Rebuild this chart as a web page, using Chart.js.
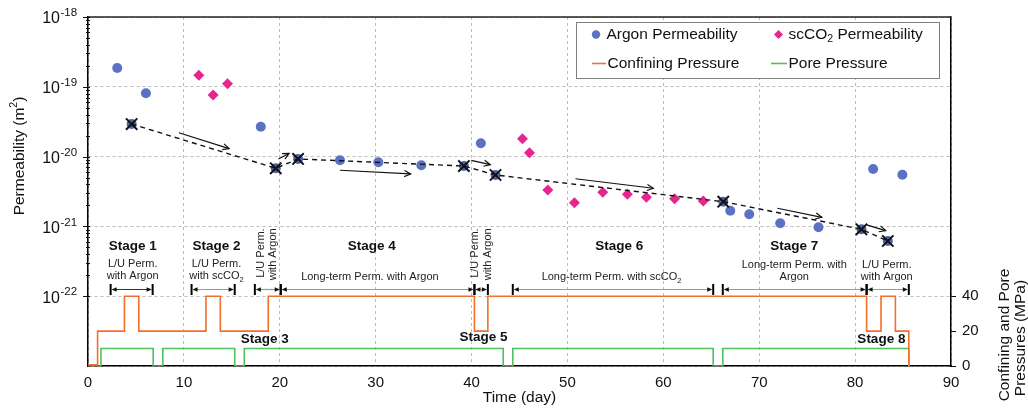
<!DOCTYPE html>
<html><head><meta charset="utf-8">
<script src="https://cdn.jsdelivr.net/npm/chart.js@4.4.1/dist/chart.umd.min.js"></script>
<style>html,body{margin:0;padding:0;background:#fff;overflow:hidden}</style>
</head><body>
<canvas id="c" width="1028" height="418" style="display:block;width:1028px;height:418px"></canvas>
<script>
// ---------- DATA ----------
const argonDays = [3.05, 6.04, 18.02, 26.28, 30.28, 34.76, 40.97, 66.98, 68.96, 72.19, 76.18, 81.88, 84.93];
const argonPerm = [1.86e-19, 8.07e-20, 2.68e-20, 8.85e-21, 8.28e-21, 7.5e-21, 1.55e-20, 1.68e-21, 1.49e-21, 1.11e-21, 9.7e-22, 6.64e-21, 5.51e-21];
const refDays = [4.55, 19.58, 21.91, 39.2, 42.5, 66.25, 80.66, 83.41];
const refPerm = [2.93e-20, 6.8e-21, 9.25e-21, 7.33e-21, 5.45e-21, 2.26e-21, 9.09e-22, 6.18e-22];
const co2Days = [11.56, 13.05, 14.55, 45.31, 46.04, 47.95, 50.73, 53.68, 56.25, 58.23, 61.18, 64.17];
const co2Perm = [1.46e-19, 7.63e-20, 1.11e-19, 1.80e-20, 1.14e-20, 3.32e-21, 2.19e-21, 3.08e-21, 2.88e-21, 2.61e-21, 2.49e-21, 2.31e-21];
const confDays = [0, 1.0, 3.8, 5.3, 12.3, 13.8, 18.8, 40.3, 41.7, 81.2, 82.7, 84.2, 85.6];
const confMPa  = [0.7, 20, 40, 20, 40, 20, 40, 20, 40, 20, 40, 20, 0];
const poreDays = [0, 1.35, 6.8, 7.8, 15.3, 16.3, 43.3, 44.3, 65.2, 66.2, 85.6];
const poreMPa  = [0, 10, 0, 10, 0, 10, 0, 10, 0, 10, 0];
const arrowFromDay  = [9.48, 19.86, 26.28, 39.97, 50.83, 71.9, 81.2];
const arrowFromPerm = [2.2e-20, 9.25e-21, 6.37e-21, 8.85e-21, 4.82e-21, 1.82e-21, 1.05e-21];
const arrowToDay    = [14.72, 20.97, 33.65, 41.95, 58.96, 76.53, 83.19];
const arrowToPerm   = [1.30e-20, 1.11e-20, 5.64e-21, 7.66e-21, 3.52e-21, 1.35e-21, 8.7e-22];
const xTickLabels = [0, 10, 20, 30, 40, 50, 60, 70, 80, 90];
const permTickExp = [-18, -19, -20, -21, -22];
const permGrid = [1e-23, 1e-22, 1e-21, 1e-20, 1e-19, 1e-18];
const pressTickLabels = [0, 20, 40];
const stageNames = ['Stage 1', 'Stage 2', 'Stage 3', 'Stage 4', 'Stage 5', 'Stage 6', 'Stage 7', 'Stage 8'];
const stageDay = [4.66, 13.4, 18.44, 29.6, 41.25, 55.4, 73.65, 82.74];
const stageMPa = [68.7, 68.7, 15.3, 68.7, 16.2, 68.7, 68.7, 15.4];
const noteLines = [['L/U Perm.', 'with Argon'], ['L/U Perm.', 'with scCO₂'], ['Long-term Perm. with Argon'], ['Long-term Perm. with scCO₂'], ['Long-term Perm. with', 'Argon'], ['L/U Perm.', 'with Argon']];
const noteDay = [4.66, 13.4, 29.4, 54.6, 73.65, 83.3];
const noteMPa = [[58.3, 51.6], [58.3, 51.6], [51.0], [51.0], [58.0, 51.2], [58.0, 51.2]];
const rotNoteText = ['L/U Perm.', 'with Argon', 'L/U Perm.', 'with Argon'];
const rotNoteDay = [18.05, 19.34, 40.39, 41.7];
const rotNoteTopMPa = 78.9;
const bracketStart = [2.36, 10.8, 17.4, 20.1, 40.3, 44.3, 66.2, 81.2];
const bracketEnd   = [6.74, 15.3, 20.1, 40.3, 41.7, 65.2, 81.2, 85.6];
const bracketMPa = 44.2;

// ---------- HELPERS ----------
const F = '"Liberation Sans", Arial, Helvetica, sans-serif';
const pts = (xs, ys) => xs.map((x, i) => ({x: x, y: ys[i]}));

function drawRich(ctx, text, x, y, size, weight, align, color) {
  const segs = [];
  for (const ch of text) {
    let sub = false, sup = false, c = ch;
    if (ch === '₂') { sub = true; c = '2'; }
    if (ch === '²') { sup = true; c = '2'; }
    const last = segs[segs.length - 1];
    if (last && last.sub === sub && last.sup === sup) last.t += c;
    else segs.push({t: c, sub: sub, sup: sup});
  }
  let total = 0;
  segs.forEach(s => {
    const sz = (s.sub || s.sup) ? size * 0.68 : size;
    ctx.font = weight + ' ' + sz + 'px ' + F;
    s.w = ctx.measureText(s.t).width; s.sz = sz; total += s.w;
  });
  let cx = align === 'center' ? x - total / 2 : (align === 'right' ? x - total : x);
  ctx.fillStyle = color; ctx.textAlign = 'left'; ctx.textBaseline = 'middle';
  segs.forEach(s => {
    ctx.font = weight + ' ' + s.sz + 'px ' + F;
    const dy = s.sub ? size * 0.32 : (s.sup ? -size * 0.36 : 0);
    ctx.fillText(s.t, cx, y + dy);
    cx += s.w;
  });
}

function arrowHeadOpen(ctx, x1, y1, x2, y2, len, ang) {
  const a = Math.atan2(y2 - y1, x2 - x1);
  ctx.beginPath();
  ctx.moveTo(x2 - len * Math.cos(a - ang), y2 - len * Math.sin(a - ang));
  ctx.lineTo(x2, y2);
  ctx.lineTo(x2 - len * Math.cos(a + ang), y2 - len * Math.sin(a + ang));
  ctx.stroke();
}

const annot = {
  id: 'annot',
  afterDraw(chart) {
    const ctx = chart.ctx, a = chart.chartArea;
    const X = v => chart.scales.x.getPixelForValue(v);
    const Y = v => chart.scales.y.getPixelForValue(v);
    const P = v => chart.scales.y2.getPixelForValue(v);
    ctx.save();
    // top border
    ctx.strokeStyle = '#222'; ctx.lineWidth = 1.3;
    ctx.beginPath(); ctx.moveTo(a.left, a.top); ctx.lineTo(a.right, a.top); ctx.stroke();

    // left ticks (major + minor)
    ctx.strokeStyle = '#111'; ctx.lineWidth = 1;
    permTickExp.forEach(e => {
      const y = Math.round(Y(Math.pow(10, e))) + 0.5;
      ctx.beginPath(); ctx.moveTo(a.left - 5, y); ctx.lineTo(a.left + 2, y); ctx.stroke();
    });
    for (let e = -22; e < -18; e++) {
      for (let m = 2; m <= 9; m++) {
        const y = Math.round(Y(m * Math.pow(10, e))) + 0.5;
        ctx.beginPath(); ctx.moveTo(a.left - 2, y); ctx.lineTo(a.left + 2, y); ctx.stroke();
      }
    }
    // right ticks
    pressTickLabels.forEach(p => {
      const y = Math.round(P(p)) + 0.5;
      ctx.beginPath(); ctx.moveTo(a.right, y); ctx.lineTo(a.right + 5, y); ctx.stroke();
    });

    // tick labels
    ctx.fillStyle = '#111';
    permTickExp.forEach(e => {
      const y = Y(Math.pow(10, e));
      ctx.font = '16px ' + F; ctx.textAlign = 'right'; ctx.textBaseline = 'middle';
      ctx.fillText('10', 60, y + 2);
      ctx.font = '11.5px ' + F; ctx.textAlign = 'left';
      ctx.fillText(String(e), 60.5, y - 4);
    });
    ctx.font = '15px ' + F; ctx.textAlign = 'center'; ctx.textBaseline = 'middle';
    xTickLabels.forEach(v => ctx.fillText(String(v), X(v), a.bottom + 17));
    ctx.textAlign = 'left';
    pressTickLabels.forEach(v => ctx.fillText(String(v), a.right + 11, P(v)));

    // axis titles
    ctx.save(); ctx.translate(20, 156); ctx.rotate(-Math.PI / 2);
    drawRich(ctx, 'Permeability (m²)', 0, 0, 15.5, 'normal', 'center', '#111');
    ctx.restore();
    drawRich(ctx, 'Time (day)', (a.left + a.right) / 2, 398, 15.5, 'normal', 'center', '#111');
    ctx.save(); ctx.translate(1005, 335); ctx.rotate(-Math.PI / 2);
    drawRich(ctx, 'Confining and Pore', 0, 0, 15.5, 'normal', 'center', '#111');
    ctx.restore();
    ctx.save(); ctx.translate(1021, 338); ctx.rotate(-Math.PI / 2);
    drawRich(ctx, 'Pressures (MPa)', 0, 0, 15.5, 'normal', 'center', '#111');
    ctx.restore();

    // trend arrows
    ctx.strokeStyle = '#111'; ctx.lineWidth = 1.2;
    arrowFromDay.forEach((d, i) => {
      const x1 = X(d), y1 = Y(arrowFromPerm[i]), x2 = X(arrowToDay[i]), y2 = Y(arrowToPerm[i]);
      ctx.beginPath(); ctx.moveTo(x1, y1); ctx.lineTo(x2, y2); ctx.stroke();
      arrowHeadOpen(ctx, x1, y1, x2, y2, 7, 0.45);
    });

    // stage labels
    stageNames.forEach((s, i) => drawRich(ctx, s, X(stageDay[i]), P(stageMPa[i]), 13.5, 'bold', 'center', '#111'));
    noteLines.forEach((lines, i) => lines.forEach((t, j) => drawRich(ctx, t, X(noteDay[i]), P(noteMPa[i][j]), 11, 'normal', 'center', '#222')));
    rotNoteText.forEach((t, i) => {
      ctx.save(); ctx.translate(X(rotNoteDay[i]), P(rotNoteTopMPa)); ctx.rotate(-Math.PI / 2);
      drawRich(ctx, t, 0, 0, 11, 'normal', 'right', '#222');
      ctx.restore();
    });

    // brackets
    const by = Math.round(P(bracketMPa)) + 0.5;
    bracketStart.forEach((s, i) => {
      const x1 = X(s), x2 = X(bracketEnd[i]);
      ctx.strokeStyle = i === 0 ? '#333' : '#999'; ctx.lineWidth = 1.2;
      ctx.beginPath(); ctx.moveTo(x1 + 2, by); ctx.lineTo(x2 - 2, by); ctx.stroke();
      ctx.fillStyle = '#111';
      ctx.beginPath(); ctx.moveTo(x1 + 1, by); ctx.lineTo(x1 + 6, by - 2.3); ctx.lineTo(x1 + 6, by + 2.3); ctx.closePath(); ctx.fill();
      ctx.beginPath(); ctx.moveTo(x2 - 1, by); ctx.lineTo(x2 - 6, by - 2.3); ctx.lineTo(x2 - 6, by + 2.3); ctx.closePath(); ctx.fill();
      ctx.strokeStyle = '#000'; ctx.lineWidth = 2;
      [x1, x2].forEach(x => { ctx.beginPath(); ctx.moveTo(x, by - 5.5); ctx.lineTo(x, by + 5.5); ctx.stroke(); });
    });

    // legend
    ctx.fillStyle = '#fff'; ctx.fillRect(576, 22, 364, 57);
    ctx.strokeStyle = '#808080'; ctx.lineWidth = 1; ctx.strokeRect(576.5, 22.5, 363, 56);
    ctx.fillStyle = '#5b72c4'; ctx.beginPath(); ctx.arc(596, 34.5, 4.2, 0, Math.PI * 2); ctx.fill();
    drawRich(ctx, 'Argon Permeability', 606.5, 34.5, 15.5, 'normal', 'left', '#111');
    ctx.fillStyle = '#e6258f'; ctx.beginPath();
    ctx.moveTo(778.5, 30); ctx.lineTo(783, 34.5); ctx.lineTo(778.5, 39); ctx.lineTo(774, 34.5); ctx.closePath(); ctx.fill();
    drawRich(ctx, 'scCO₂ Permeability', 788.5, 34.5, 15.5, 'normal', 'left', '#111');
    ctx.strokeStyle = '#f36f2b'; ctx.lineWidth = 1.6;
    ctx.beginPath(); ctx.moveTo(592, 63.5); ctx.lineTo(606, 63.5); ctx.stroke();
    drawRich(ctx, 'Confining Pressure', 607.5, 63.5, 15.5, 'normal', 'left', '#111');
    ctx.strokeStyle = '#4dc15b';
    ctx.beginPath(); ctx.moveTo(771, 63.5); ctx.lineTo(787, 63.5); ctx.stroke();
    drawRich(ctx, 'Pore Pressure', 788.5, 63.5, 15.5, 'normal', 'left', '#111');
    ctx.restore();
  }
};

new Chart(document.getElementById('c'), {
  type: 'scatter',
  data: {
    datasets: [
      { type: 'line', label: 'Reference', data: pts(refDays, refPerm), yAxisID: 'y',
        borderColor: '#111', borderWidth: 1.4, borderDash: [5, 4], fill: false, tension: 0,
        pointStyle: 'crossRot', pointRadius: 8, pointBorderWidth: 2, pointBorderColor: '#111',
        pointBackgroundColor: 'rgba(0,0,0,0)' },
      { type: 'scatter', label: 'Reference Argon', data: pts(refDays, refPerm), yAxisID: 'y',
        pointRadius: 5, backgroundColor: '#4c63ab', borderWidth: 0 },
      { type: 'scatter', label: 'Argon Permeability', data: pts(argonDays, argonPerm), yAxisID: 'y',
        pointRadius: 5, backgroundColor: '#5b72c4', borderWidth: 0 },
      { type: 'scatter', label: 'scCO2 Permeability', data: pts(co2Days, co2Perm), yAxisID: 'y',
        pointStyle: 'rectRot', pointRadius: 5.5, backgroundColor: '#e6258f', borderWidth: 0 },
      { type: 'line', label: 'Confining Pressure', data: pts(confDays, confMPa), yAxisID: 'y2',
        stepped: 'before', borderColor: '#f36f2b', borderWidth: 1.6, pointRadius: 0, fill: false },
      { type: 'line', label: 'Pore Pressure', data: pts(poreDays, poreMPa), yAxisID: 'y2',
        stepped: 'before', borderColor: '#4dc15b', borderWidth: 1.6, pointRadius: 0, fill: false }
    ]
  },
  options: {
    responsive: false, animation: false, devicePixelRatio: 1,
    layout: { padding: { top: 17, left: 0, right: 0, bottom: 0 } },
    plugins: { legend: { display: false }, tooltip: { enabled: false } },
    scales: {
      x: { type: 'linear', position: 'bottom', min: 0, max: 90,
        ticks: { stepSize: 10, display: false },
        grid: { color: '#bdbdbd', lineWidth: 1, drawTicks: false },
        border: { color: '#000', width: 1.5, dash: [3, 3] },
        afterFit: s => { s.height = 52; } },
      y: { type: 'logarithmic', position: 'left', min: 1e-23, max: 1e-18,
        afterBuildTicks: s => { s.ticks = permGrid.map(v => ({ value: v })); },
        ticks: { display: false },
        grid: { color: '#bdbdbd', lineWidth: 1, drawTicks: false },
        border: { color: '#000', width: 1.5, dash: [3, 3] },
        afterFit: s => { s.width = 88; } },
      y2: { type: 'linear', position: 'right', min: 0, max: 200,
        afterBuildTicks: s => { s.ticks = pressTickLabels.map(v => ({ value: v })); },
        ticks: { display: false },
        grid: { drawOnChartArea: false, drawTicks: false },
        border: { color: '#000', width: 1.5 },
        afterFit: s => { s.width = 77; } }
    }
  },
  plugins: [annot]
});
</script>
</body></html>
